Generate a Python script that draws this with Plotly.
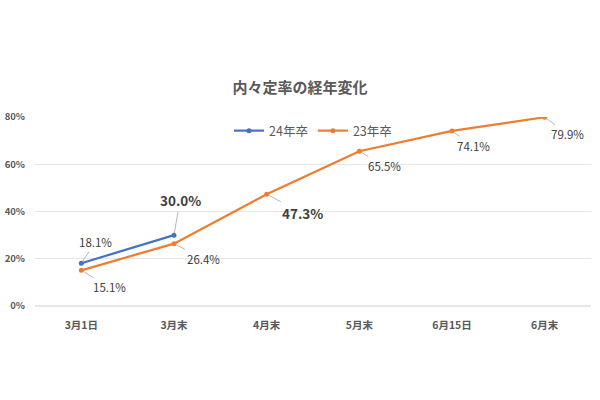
import plotly.graph_objects as go

categories = ["3月1日", "3月末", "4月末", "5月末", "6月15日", "6月末"]
s24_name = "24年卒"
s24 = [18.1, 30.0]
s23_name = "23年卒"
s23 = [15.1, 26.4, 47.3, 65.5, 74.1, 79.9]
y_ticks = [0, 20, 40, 60, 80]

BLUE = "#4472C4"
ORANGE = "#ED7D31"
FONT = "Noto Sans CJK JP"

fig = go.Figure()
fig.add_trace(go.Scatter(x=categories[:len(s24)], y=s24, name=s24_name, mode="lines+markers",
                         line=dict(color=BLUE, width=2.2), marker=dict(size=5, color=BLUE)))
fig.add_trace(go.Scatter(x=categories, y=s23, name=s23_name, mode="lines+markers",
                         line=dict(color=ORANGE, width=2.2), marker=dict(size=5, color=ORANGE)))

# label offsets (ax, ay in px) and emphasis
lab24 = [(14, -21, False), (6, -35, True)]
lab23 = [(28, 17, False), (29, 15, False), (36, 19, True), (25, 15, False), (21, 15, False), (23, 17, False)]

def add_labels(vals, offs):
    for c, v, (ax, ay, bold) in zip(categories, vals, offs):
        txt = f"<b>{v:.1f}%</b>" if bold else f"{v:.1f}%"
        fig.add_annotation(x=c, y=v, text=txt, showarrow=True, arrowhead=0, arrowwidth=0.8,
                           arrowcolor="#A6A6A6", ax=ax, ay=ay, standoff=2,
                           font=dict(family=FONT, size=13.5 if bold else 11.5, color="#404040"))

add_labels(s24, lab24)
add_labels(s23, lab23)

fig.update_layout(
    width=600, height=400,
    margin=dict(l=35, r=9, t=117, b=94),
    plot_bgcolor="white", paper_bgcolor="white",
    font=dict(family=FONT, color="#595959"),
    title=dict(text="<b>内々定率の経年変化</b>", x=0.5, xanchor="center", y=1 - 88 / 400, yanchor="middle",
               font=dict(family=FONT, size=15, color="#595959")),
    legend=dict(orientation="h", x=0.5, xanchor="center", y=1 - (131 - 117) / 189, yanchor="middle",
                font=dict(family=FONT, size=12.5, color="#595959"), bgcolor="rgba(0,0,0,0)",
                itemwidth=30, tracegroupgap=0),
    showlegend=True,
)
fig.update_xaxes(range=[-0.5, 5.5], showgrid=False, showline=False, ticks="", automargin=False,
                 tickfont=dict(family=FONT, size=10.5, color="#595959"), ticklabelstandoff=11,
                 tickvals=categories, ticktext=[f"<b>{c}</b>" for c in categories])
fig.update_yaxes(range=[0, 80], tickvals=y_ticks, ticktext=[f"<b>{t}%</b>" for t in y_ticks],
                 gridcolor="#E6E6E6", gridwidth=1, zeroline=True, zerolinecolor="#E6E6E6",
                 tickfont=dict(family=FONT, size=9.5, color="#595959"), ticks="", ticklen=0,
                 ticklabelstandoff=9, showline=False, automargin=False)

fig.write_html("out.html")
